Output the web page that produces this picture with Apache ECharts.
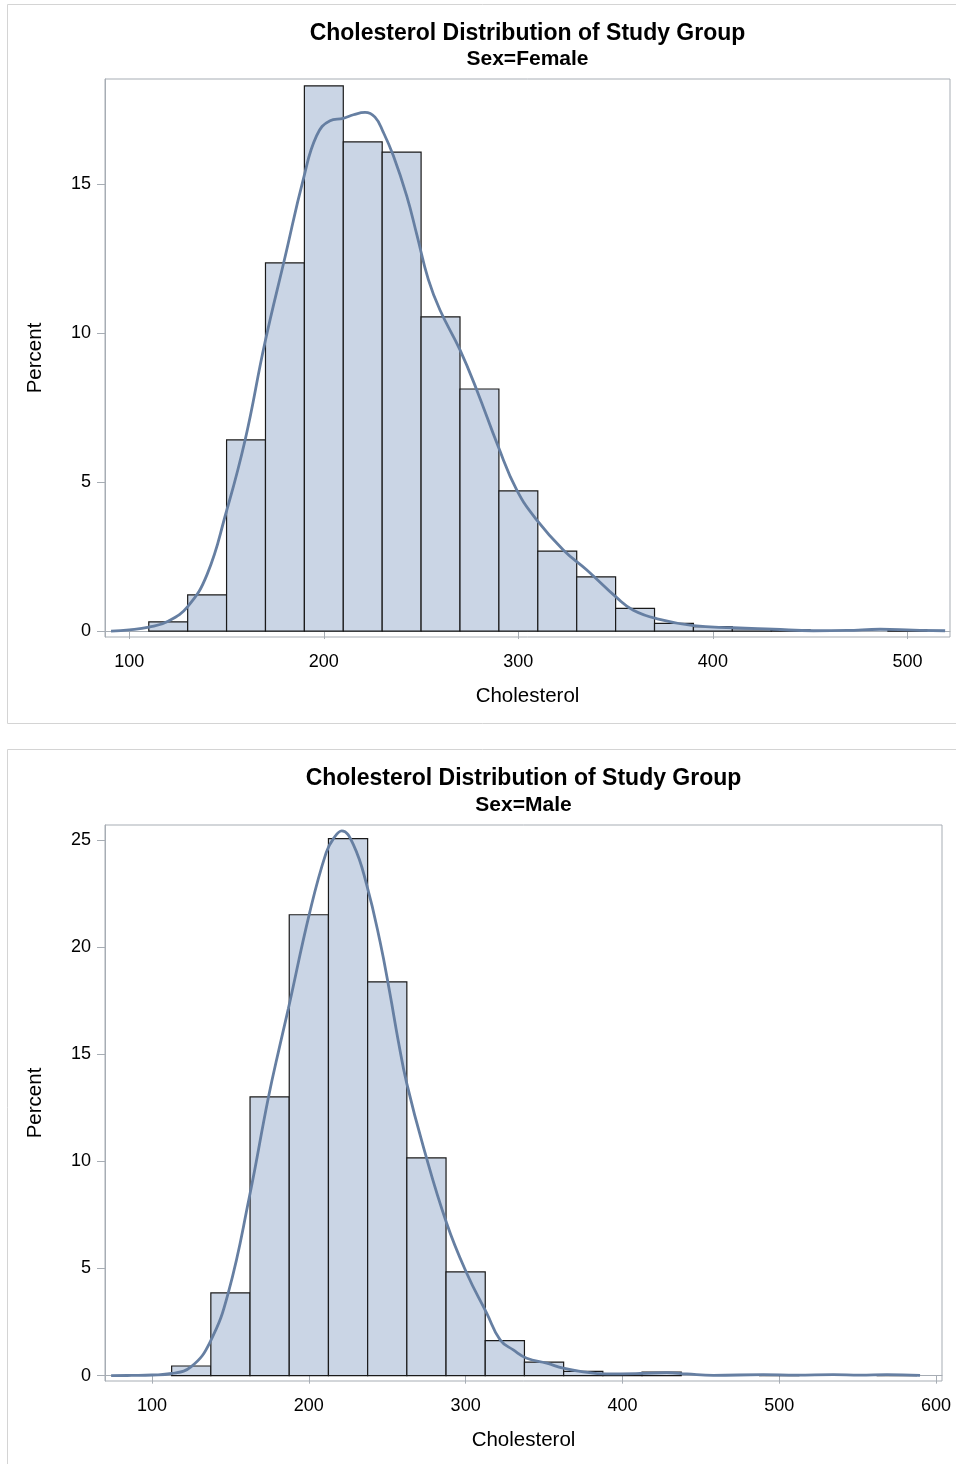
<!DOCTYPE html>
<html>
<head>
<meta charset="utf-8">
<script src="https://cdn.jsdelivr.net/npm/echarts@6/dist/echarts.min.js"></script>
<style>
  html, body { margin: 0; padding: 0; background: #ffffff; }
  #chart { width: 956px; height: 1464px; }
</style>
</head>
<body>
<div id="chart"></div>
<script>
// ---- Histogram bins (percent of each group per bin) ----
const femaleBinStart = 110;
const femaleBinWidth = 20;
const femalePercent = [0.31, 1.21, 6.41, 12.35, 18.29, 16.41, 16.07, 10.54, 8.12, 4.70,
                       2.68, 1.82, 0.76, 0.26, 0.15, 0.08, 0.04, 0, 0, 0.04];

const maleBinStart = 112.5;
const maleBinWidth = 25;
const malePercent = [0.45, 3.86, 13.01, 21.51, 25.06, 18.38, 10.16, 4.84, 1.63, 0.63,
                     0.20, 0.06, 0.16, 0, 0, 0.04, 0, 0, 0.04, 0];

// ---- Kernel density estimates, [cholesterol, percent] ----
const femaleDensity = [
  [90.6, 0], [100, 0.04], [110, 0.13], [120, 0.33], [130, 0.82], [140, 1.9], [149.7, 3.96],
  [159.5, 6.4], [169.7, 9.67], [180, 12.53], [189.5, 15.17], [196.3, 16.62], [203.2, 17.12],
  [210, 17.2], [215.2, 17.32], [221.2, 17.4], [226.3, 17.24], [230.6, 16.73], [235.7, 15.95],
  [242.6, 14.6], [247.8, 13.3], [253.7, 11.8], [259.7, 10.77], [270, 9.43], [278.6, 8.09],
  [289.7, 6.18], [299.2, 4.73], [309.5, 3.72], [323.1, 2.72], [335.2, 2.05], [350.6, 1.12],
  [359.1, 0.70], [372, 0.4], [390, 0.18], [410.5, 0.11], [431, 0.06], [451.7, 0.01],
  [468.9, 0.02], [486, 0.06], [503, 0.03], [519.4, 0.01]
];
const maleDensity = [
  [73.9, 0], [87, 0.01], [100, 0.03], [112.5, 0.1], [125, 0.42], [137, 1.57], [148.7, 3.89],
  [162.1, 8.35], [174.2, 12.98], [181.6, 15.44], [186.9, 17.12], [200.5, 21.6], [211, 24.4],
  [216, 25.1], [221, 25.43], [228.4, 24.78], [236.9, 22.91], [245.4, 20.26], [251.8, 17.8],
  [257.1, 15.6], [262.4, 13.65], [273, 10.69], [287.9, 7.11], [300.7, 4.78], [313.5, 2.91],
  [322, 1.67], [330.4, 1.2], [339, 0.81], [351.7, 0.58], [362.3, 0.35], [373, 0.2],
  [390, 0.08], [411.2, 0.1], [428.2, 0.14], [441, 0.08], [458, 0.01], [489.9, 0.05],
  [511, 0.02], [534.5, 0.05], [551.5, 0.02], [568.6, 0.05], [589.8, 0.01]
];

// ---- Axis ticks ----
const femaleXTicks = [100, 200, 300, 400, 500];
const femaleYTicks = [0, 5, 10, 15];
const maleXTicks = [100, 200, 300, 400, 500, 600];
const maleYTicks = [0, 5, 10, 15, 20, 25];

const titleText = 'Cholesterol Distribution of Study Group';
const femaleSubtitle = 'Sex=Female';
const maleSubtitle = 'Sex=Male';
const xName = 'Cholesterol';
const yName = 'Percent';

// ---- Styling ----
const FONT = '"Liberation Sans", Arial, sans-serif';
const BAR_FILL = '#cad5e5';
const BAR_EDGE = '#1a1a1a';
const FIT_LINE = '#667fa2';
const FRAME = '#a7adb4';
const PANEL = '#d4d4d4';

function binRows(start, width, pct) {
  return pct.map((p, i) => [start + i * width, start + (i + 1) * width, p]);
}

function makeX(gridIndex, min, max, ticks) {
  return {
    type: 'value', gridIndex, min, max,
    name: xName, nameLocation: 'middle', nameGap: 49,
    nameTextStyle: { fontFamily: FONT, fontSize: 20.5, color: '#000' },
    axisLine: { show: true, lineStyle: { color: FRAME, width: 1 } },
    axisTick: { show: true, length: 8, lineStyle: { color: FRAME }, customValues: ticks },
    axisLabel: { fontFamily: FONT, fontSize: 18, color: '#000', margin: 16, customValues: ticks },
    splitLine: { show: false }
  };
}
function makeY(gridIndex, min, max, ticks) {
  return {
    type: 'value', gridIndex, min, max,
    name: yName, nameLocation: 'middle', nameGap: 59,
    nameTextStyle: { fontFamily: FONT, fontSize: 20.5, color: '#000' },
    axisLine: { show: true, lineStyle: { color: FRAME, width: 1 } },
    axisTick: { show: true, length: 8, lineStyle: { color: FRAME }, customValues: ticks },
    axisLabel: { fontFamily: FONT, fontSize: 18, color: '#000', margin: 14, customValues: ticks },
    splitLine: { show: false }
  };
}

function histSeries(axisIndex, rows) {
  return {
    type: 'custom', xAxisIndex: axisIndex, yAxisIndex: axisIndex,
    data: rows, z: 2,
    renderItem(params, api) {
      const lo = api.value(0), hi = api.value(1), v = api.value(2);
      if (!(v > 0)) return null;
      const a = api.coord([lo, v]);
      const b = api.coord([hi, 0]);
      return {
        type: 'rect',
        shape: { x: a[0], y: a[1], width: b[0] - a[0], height: b[1] - a[1] },
        style: { fill: BAR_FILL, stroke: BAR_EDGE, lineWidth: 1.2 }
      };
    }
  };
}

function densitySeries(axisIndex, pts) {
  return {
    type: 'line', xAxisIndex: axisIndex, yAxisIndex: axisIndex,
    data: pts, smooth: 0.45, showSymbol: false, symbol: 'none', z: 3,
    lineStyle: { color: FIT_LINE, width: 2.8 }
  };
}

function headText(x, y, text, size) {
  return { type: 'text', x, y, silent: true, style: {
    text, align: 'center', verticalAlign: 'middle', fill: '#000',
    font: 'bold ' + size + 'px ' + FONT } };
}

const chart = echarts.init(document.getElementById('chart'), null, { renderer: 'canvas' });
chart.setOption({
  backgroundColor: '#ffffff',
  animation: false,
  graphic: [
    { type: 'rect', silent: true, z: -10, shape: { x: 7.5, y: 4.5, width: 1000, height: 719 },
      style: { fill: 'none', stroke: PANEL, lineWidth: 1 } },
    { type: 'rect', silent: true, z: -10, shape: { x: 7.5, y: 749.5, width: 1000, height: 800 },
      style: { fill: 'none', stroke: PANEL, lineWidth: 1 } },
    headText(527.5, 34, titleText, 23),
    headText(527.5, 59, femaleSubtitle, 21),
    headText(523.5, 779, titleText, 23),
    headText(523.5, 805, maleSubtitle, 21)
  ],
  grid: [
    { left: 105, top: 79, width: 845, height: 558, show: true, borderColor: FRAME, borderWidth: 1, backgroundColor: 'transparent' },
    { left: 105, top: 825, width: 837, height: 556, show: true, borderColor: FRAME, borderWidth: 1, backgroundColor: 'transparent' }
  ],
  xAxis: [
    makeX(0, 87.5, 521.9, femaleXTicks),
    makeX(1, 70, 603.8, maleXTicks)
  ],
  yAxis: [
    makeY(0, -0.2, 18.52, femaleYTicks),
    makeY(1, -0.25, 25.7, maleYTicks)
  ],
  series: [
    histSeries(0, binRows(femaleBinStart, femaleBinWidth, femalePercent)),
    densitySeries(0, femaleDensity),
    histSeries(1, binRows(maleBinStart, maleBinWidth, malePercent)),
    densitySeries(1, maleDensity)
  ]
});
</script>
</body>
</html>
